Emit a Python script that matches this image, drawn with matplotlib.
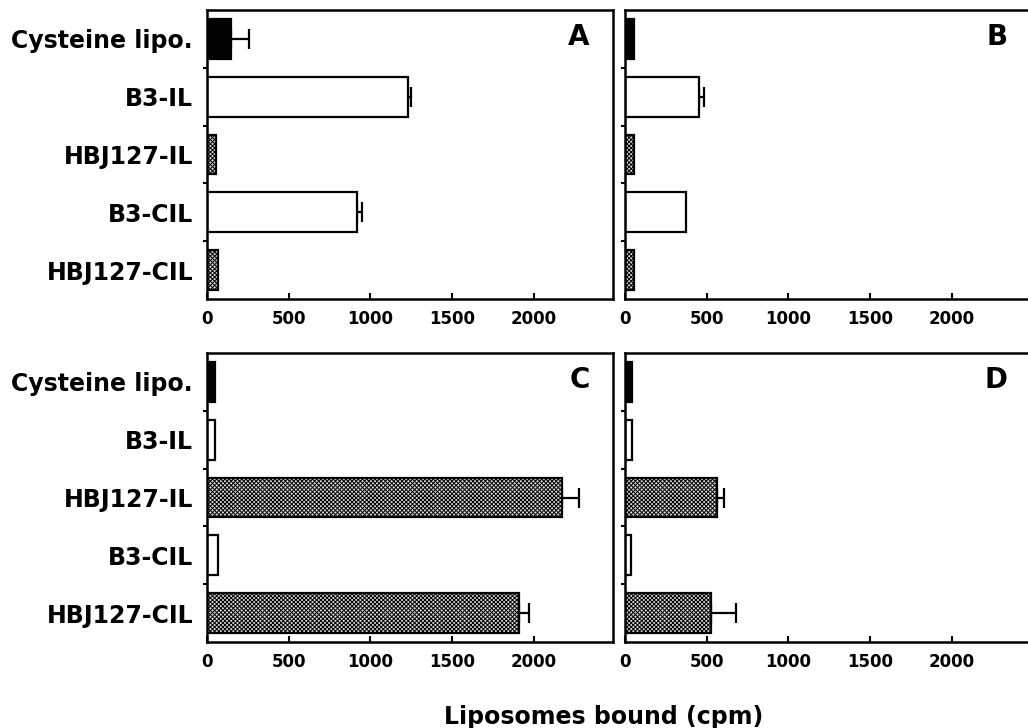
import matplotlib
matplotlib.use("Agg")
import matplotlib.pyplot as plt
import numpy as np

plt.rcParams['font.family'] = ['DejaVu Sans']
plt.rcParams['font.weight'] = 'bold'
plt.rcParams['hatch.linewidth'] = 0.7

# ---- data ----
categories = ["Cysteine lipo.", "B3-IL", "HBJ127-IL", "B3-CIL", "HBJ127-CIL"]
panel_labels = ["A", "B", "C", "D"]

vals_A = [148, 1230, 55, 920, 65]
errs_A = [110, 18, 0, 28, 0]
vals_B = [55, 450, 57, 376, 53]
errs_B = [0, 31, 0, 0, 0]
vals_C = [48, 48, 2170, 68, 1910]
errs_C = [0, 0, 104, 0, 61]
vals_D = [41, 41, 562, 37, 524]
errs_D = [0, 0, 43, 0, 156]

xticks = [0, 500, 1000, 1500, 2000]
xlabel = "Liposomes bound (cpm)"

# ---- styles ----
face = ['black', 'white', '#d8d8d8', 'white', '#d8d8d8']
hatches = [None, None, 'xxxxxxxx', None, 'xxxxxxxx']

W, H = 1028, 728
fig = plt.figure(figsize=(W / 100, H / 100), dpi=100)

def frac_rect(left, top, right, bottom):
    return [left / W, (H - bottom) / H, (right - left) / W, (bottom - top) / H]

rects = [
    frac_rect(207, 10, 613, 299),
    frac_rect(625, 10, 1031, 299),
    frac_rect(207, 353, 613, 642),
    frac_rect(625, 353, 1031, 642),
]
all_vals = [vals_A, vals_B, vals_C, vals_D]
all_errs = [errs_A, errs_B, errs_C, errs_D]

for i, (rect, vals, errs, lab) in enumerate(zip(rects, all_vals, all_errs, panel_labels)):
    ax = fig.add_axes(rect)
    y = np.arange(len(categories))
    bars = ax.barh(y, vals, height=0.69, edgecolor='black', linewidth=1.6, zorder=2)
    for b, fc, h in zip(bars, face, hatches):
        b.set_facecolor(fc)
        if h:
            b.set_hatch(h)
    yy = [yv for yv, e in zip(y, errs) if e > 0]
    vv = [v for v, e in zip(vals, errs) if e > 0]
    ee = [e for e in errs if e > 0]
    if ee:
        ax.errorbar(vv, yy, xerr=[np.zeros(len(ee)), ee], fmt='none', ecolor='black',
                    elinewidth=1.6, capsize=7, capthick=1.6, zorder=1)
    ax.set_xlim(0, 2485)
    ax.set_ylim(len(categories) - 0.5, -0.5)
    ax.set_xticks(xticks)
    ax.set_xticklabels([str(t) for t in xticks], fontsize=12, fontweight='bold')
    ax.tick_params(axis='x', direction='in', length=4, width=1.5, pad=8)
    ax.set_yticks(y)
    if i % 2 == 0:
        ax.set_yticklabels(categories, fontsize=17, fontweight='bold')
    else:
        ax.set_yticklabels([])
    ax.tick_params(axis='y', which='major', length=0, pad=10)
    ax.set_yticks(np.arange(len(categories) - 1) + 0.5, minor=True)
    ax.tick_params(axis='y', which='minor', direction='out', length=3, width=1.5)
    for s in ax.spines.values():
        s.set_linewidth(1.8)
    ax.text(0.943, 0.905, lab, transform=ax.transAxes, ha='right', va='center',
            fontsize=20, fontweight='bold')

fig.text(604 / W, (H - 724) / H, xlabel, ha='center', va='baseline',
         fontsize=17, fontweight='bold')

fig.savefig("out.png", dpi=100)
